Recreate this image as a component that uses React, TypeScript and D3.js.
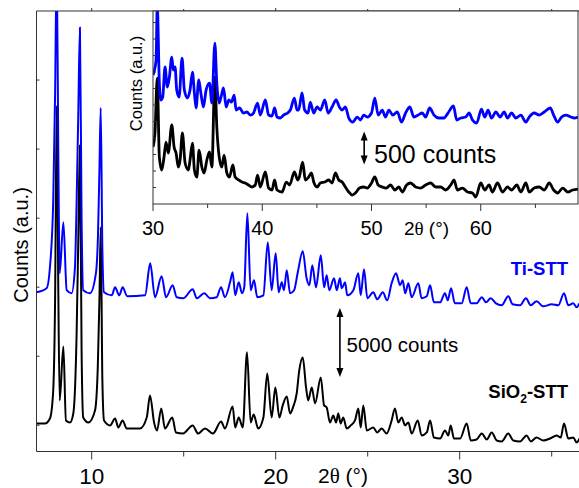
import React from 'react';
import * as d3 from 'd3';

// main pattern, 2θ (°) vs counts
const sio2Main: [number, number][] = [
  [7.0, 2130], [7.46, 2130], [7.73, 2490], [7.9, 4300], [8.01, 11050], [8.1, 25100], [8.18, 12500], [8.26, 3800],
  [8.46, 7700], [8.6, 2350], [8.82, 2200], [9.0, 2850], [9.18, 8650], [9.27, 15400], [9.36, 22300], [9.45, 7450],
  [9.54, 2560], [9.82, 2200], [10.18, 3070], [10.33, 6190], [10.42, 11070], [10.49, 16340], [10.58, 5280], [10.67, 2350],
  [11.0, 1990], [11.27, 2490], [11.45, 1840], [11.68, 2350], [11.9, 1770], [12.63, 1770], [12.99, 2560], [13.17, 4160],
  [13.39, 2200], [13.55, 1620], [13.78, 3220], [13.98, 1770], [14.38, 2560], [14.58, 1480], [14.96, 1400], [15.49, 1990],
  [15.78, 1400], [16.16, 1770], [16.59, 1400], [17.03, 2280], [17.24, 1770], [17.66, 3360], [17.8, 1840], [17.99, 2560],
  [18.21, 1840], [18.44, 7280], [18.64, 2200], [18.8, 2780], [19.05, 1770], [19.33, 2560], [19.54, 5750], [19.78, 2560],
  [19.98, 4740], [20.2, 2560], [20.38, 3440], [20.6, 4090], [20.78, 2850], [20.94, 3290], [21.14, 4300], [21.28, 5970],
  [21.47, 6910], [21.65, 4740], [21.77, 3800], [21.96, 4740], [22.14, 3580], [22.45, 5460], [22.63, 3440], [22.77, 3290],
  [22.95, 2200], [23.13, 2710], [23.28, 2200], [23.4, 2850], [23.53, 2130], [23.67, 2560], [23.86, 1770], [24.08, 1990],
  [24.31, 2350], [24.49, 3220], [24.62, 1840], [24.76, 3440], [24.95, 1620], [25.3, 1840], [25.52, 1480], [25.76, 1770],
  [26.03, 1400], [26.3, 2350], [26.48, 3220], [26.66, 2200], [26.85, 2560], [27.03, 1990], [27.21, 2200], [27.39, 1400],
  [27.72, 2350], [27.93, 1260], [28.21, 1480], [28.39, 2350], [28.6, 1110], [28.93, 1040], [29.2, 1620], [29.38, 1260],
  [29.51, 1990], [29.69, 1040], [30.02, 1040], [30.38, 2130], [30.6, 900], [30.92, 970], [31.2, 1400], [31.47, 970],
  [31.74, 1480], [32.01, 900], [32.28, 830], [32.64, 1400], [32.91, 900], [33.28, 830], [33.64, 1260], [33.86, 830],
  [34.18, 1110], [34.54, 900], [34.91, 1040], [35.27, 1260], [35.49, 1110], [35.67, 2130], [35.9, 1040], [36.17, 1110],
  [36.36, 750], [36.5, 1040],
];

const tiMain: [number, number][] = [
  [7.0, 2130], [7.55, 2420], [7.73, 3940], [7.91, 8800], [8.01, 16400], [8.1, 26000], [8.18, 13000], [8.26, 3510],
  [8.46, 7200], [8.64, 2280], [8.91, 2060], [9.09, 3940], [9.18, 8650], [9.27, 15000], [9.36, 21300], [9.45, 7500],
  [9.54, 2280], [9.91, 2060], [10.23, 3510], [10.34, 6190], [10.42, 11000], [10.49, 15470], [10.58, 5200], [10.67, 2130],
  [11.09, 1910], [11.27, 2490], [11.5, 1910], [11.68, 2490], [11.93, 1840], [12.9, 1910], [13.18, 4230], [13.44, 1770],
  [13.8, 3290], [14.04, 1770], [14.4, 2640], [14.62, 1770], [14.98, 1700], [15.49, 2350], [15.71, 1700], [16.12, 2060],
  [16.43, 1700], [16.79, 1770], [17.03, 2490], [17.24, 1770], [17.52, 2850], [17.66, 3580], [17.8, 1910], [17.99, 2850],
  [18.17, 2060], [18.29, 2490], [18.46, 7860], [18.64, 2280], [18.82, 3000], [19.0, 1770], [19.33, 1910], [19.57, 5750],
  [19.78, 2280], [20.0, 4960], [20.16, 2130], [20.33, 2850], [20.45, 2280], [20.6, 3720], [20.78, 2060], [21.0, 2280],
  [21.2, 3580], [21.47, 5100], [21.68, 3140], [21.83, 2640], [21.99, 4090], [22.19, 2490], [22.45, 4810], [22.63, 2490],
  [22.77, 3360], [22.91, 2280], [23.17, 3140], [23.32, 2280], [23.49, 3140], [23.59, 2420], [23.77, 2850], [23.89, 1910],
  [24.22, 2280], [24.49, 3510], [24.62, 1910], [24.8, 3800], [24.98, 1700], [25.3, 2130], [25.52, 1620], [25.82, 2130],
  [26.06, 1550], [26.3, 2780], [26.54, 3510], [26.76, 2640], [26.9, 3000], [27.04, 2060], [27.21, 2780], [27.39, 1770],
  [27.75, 2780], [27.93, 1700], [28.21, 1840], [28.39, 2640], [28.6, 1400], [28.93, 1400], [29.2, 2060], [29.35, 1550],
  [29.53, 2420], [29.74, 1330], [30.11, 1330], [30.38, 2490], [30.6, 1330], [30.92, 1330], [31.2, 1770], [31.43, 1400],
  [31.68, 1700], [31.97, 1330], [32.28, 1190], [32.64, 1840], [32.88, 1260], [33.28, 1190], [33.6, 1700], [33.86, 1190],
  [34.18, 1480], [34.54, 1110], [35.0, 1260], [35.36, 1190], [35.67, 2060], [35.9, 1190], [36.17, 1330], [36.36, 1040],
  [36.5, 1330],
];
const tiMainOffset = 9500;

// inset, 30-69°
const sio2Inset: [number, number][] = [
  [30.0, 864], [30.18, 1076], [30.39, 1909], [30.58, 712], [30.8, 515], [31.01, 712], [31.19, 939], [31.4, 773],
  [31.72, 1197], [31.93, 864], [32.11, 773], [32.32, 561], [32.48, 667], [32.69, 1076], [32.94, 621], [33.24, 515],
  [33.39, 667], [33.61, 924], [33.79, 515], [34.01, 409], [34.22, 818], [34.47, 561], [34.68, 470], [34.93, 667],
  [35.17, 788], [35.39, 561], [35.66, 1924], [35.84, 1167], [36.06, 712], [36.3, 561], [36.51, 742], [36.76, 470],
  [37.0, 409], [37.31, 591], [37.52, 409], [37.83, 364], [38.14, 333], [38.44, 318], [38.74, 288], [39.06, 258],
  [39.36, 288], [39.57, 439], [39.82, 258], [40.28, 485], [40.58, 242], [40.89, 212], [41.13, 364], [41.35, 212],
  [41.81, 182], [42.2, 333], [42.5, 288], [42.94, 485], [43.24, 364], [43.39, 409], [43.7, 636], [43.94, 364],
  [44.25, 409], [44.5, 470], [44.71, 333], [45.02, 258], [45.32, 318], [45.72, 333], [46.08, 364], [46.39, 318],
  [46.7, 470], [47.0, 364], [47.31, 333], [47.61, 258], [47.92, 182], [48.23, 136], [48.53, 167], [48.9, 242],
  [49.29, 258], [49.61, 242], [50.0, 318], [50.3, 409], [50.61, 288], [50.98, 258], [51.35, 242], [51.74, 288],
  [52.14, 212], [52.5, 258], [52.82, 182], [53.21, 288], [53.58, 318], [54.04, 258], [54.5, 242], [54.95, 288],
  [55.41, 318], [55.87, 258], [56.33, 258], [56.79, 212], [57.25, 288], [57.55, 364], [57.86, 212], [58.32, 242],
  [58.78, 182], [59.24, 167], [59.54, 106], [60.0, 318], [60.37, 212], [60.76, 288], [61.07, 182], [61.53, 318],
  [61.99, 182], [62.45, 258], [62.82, 212], [63.3, 288], [63.67, 182], [64.13, 318], [64.43, 182], [64.89, 242],
  [65.35, 258], [65.81, 212], [66.27, 318], [66.67, 212], [67.04, 167], [67.5, 242], [67.95, 182], [68.41, 212],
  [68.9, 227],
];

const tiInset: [number, number][] = [
  [30.0, 854], [30.09, 900], [30.28, 1082], [30.39, 1900], [30.58, 733], [30.71, 476], [30.89, 521], [31.1, 976],
  [31.31, 673], [31.5, 824], [31.72, 1127], [31.86, 930], [32.02, 976], [32.17, 627], [32.39, 521], [32.66, 1112],
  [32.87, 627], [33.15, 506], [33.39, 627], [33.61, 900], [33.79, 582], [33.94, 355], [34.19, 779], [34.38, 582],
  [34.61, 370], [34.86, 627], [35.17, 733], [35.39, 430], [35.66, 1339], [35.84, 733], [36.06, 430], [36.27, 551],
  [36.45, 658], [36.7, 370], [36.94, 476], [37.18, 445], [37.43, 551], [37.61, 324], [37.92, 355], [38.28, 279],
  [38.6, 294], [38.9, 248], [39.2, 279], [39.57, 430], [39.82, 248], [40.28, 476], [40.58, 248], [40.89, 233],
  [41.13, 355], [41.35, 218], [41.65, 203], [41.95, 248], [42.32, 279], [42.57, 324], [42.94, 506], [43.18, 324],
  [43.33, 324], [43.64, 582], [43.88, 324], [44.19, 279], [44.4, 445], [44.71, 279], [45.02, 370], [45.32, 324],
  [45.72, 476], [46.03, 279], [46.39, 370], [46.76, 476], [47.06, 370], [47.31, 324], [47.61, 370], [47.92, 203],
  [48.29, 142], [48.69, 218], [48.99, 173], [49.29, 248], [49.61, 218], [50.0, 279], [50.3, 506], [50.61, 248],
  [50.98, 324], [51.28, 218], [51.59, 324], [51.95, 248], [52.36, 294], [52.75, 142], [53.12, 279], [53.51, 370],
  [53.88, 218], [54.28, 248], [54.65, 279], [54.95, 218], [55.32, 355], [55.72, 248], [56.17, 203], [56.63, 203],
  [57.0, 279], [57.5, 385], [57.8, 173], [58.17, 203], [58.62, 218], [58.93, 279], [59.24, 173], [59.63, 127],
  [60.06, 339], [60.37, 218], [60.67, 324], [60.98, 203], [61.38, 294], [61.77, 218], [62.14, 294], [62.45, 203],
  [62.82, 279], [63.21, 203], [63.67, 248], [64.13, 142], [64.43, 218], [64.89, 279], [65.35, 248], [65.81, 294],
  [66.36, 355], [66.67, 248], [67.04, 142], [67.4, 218], [67.8, 248], [68.26, 218], [68.56, 203], [68.9, 218],
];
const tiInsetOffset = 1100;

const mainTicks = [10, 20, 30];
const mainMinor = [15, 25, 35];
const insetTicks = [30, 40, 50, 60];
const insetMinor = [35, 45, 55, 65];

const BLUE = '#0000ff';
const FRAME = '#333';
const FONT = '"Liberation Sans", Arial, sans-serif';

function Arrow({ x, y1, y2 }: { x: number; y1: number; y2: number }) {
  // y1 = top tip, y2 = bottom tip
  const hw = 3.5, hl = 9;
  return (
    <g>
      <line x1={x} x2={x} y1={y1 + hl - 1} y2={y2 - hl + 1} stroke="#000" strokeWidth={1.6} />
      <path d={`M${x},${y1} L${x - hw},${y1 + hl} L${x + hw},${y1 + hl} Z`} fill="#000" />
      <path d={`M${x},${y2} L${x - hw},${y2 - hl} L${x + hw},${y2 - hl} Z`} fill="#000" />
    </g>
  );
}

export default function App() {
  const xMain = d3.scaleLinear().domain([7, 36.5]).range([36.5, 579.3]);
  const yMain = d3.scaleLinear().domain([100, 32000]).range([451.5, 11]);
  const xIn = d3.scaleLinear().domain([30, 68.9]).range([153, 578]);
  const yIn = d3.scaleLinear().domain([0, 2925]).range([204, 11]);

  const mainLine = (off: number) =>
    d3.line<[number, number]>().x(d => xMain(d[0])).y(d => yMain(d[1] + off)).curve(d3.curveMonotoneX);
  const inLine = (off: number) =>
    d3.line<[number, number]>().x(d => xIn(d[0])).y(d => yIn(d[1] + off)).curve(d3.curveMonotoneX);

  const [mx0, mx1] = xMain.range();
  const [my0, my1] = [yMain.range()[1], yMain.range()[0]];
  const [ix0, ix1] = xIn.range();
  const [iy0, iy1] = [yIn.range()[1], yIn.range()[0]];

  return (
    <svg width={579} height={488} style={{ position: 'absolute', left: 0, top: 0, background: '#fff' }}
      fontFamily={FONT}>
      <defs>
        <clipPath id="clipMain">
          <rect x={mx0} y={my0} width={mx1 - mx0} height={my1 - my0} />
        </clipPath>
        <clipPath id="clipIn">
          <rect x={ix0} y={iy0} width={ix1 - ix0} height={iy1 - iy0} />
        </clipPath>
      </defs>

      {/* main curves */}
      <g clipPath="url(#clipMain)" fill="none" strokeWidth={2} strokeLinejoin="round">
        <path d={mainLine(0)(sio2Main) || ''} stroke="#000" />
        <path d={mainLine(tiMainOffset)(tiMain) || ''} stroke={BLUE} />
      </g>

      {/* main frame */}
      <g stroke={FRAME} strokeWidth={1}>
        <line x1={mx0} x2={mx0} y1={my0} y2={my1} />
        <line x1={mx0} x2={mx1} y1={my1} y2={my1} />
        <line x1={mx0} x2={mx1} y1={my0} y2={my0} />
        {mainTicks.map(t => (
          <g key={'mt' + t}>
            <line x1={xMain(t)} x2={xMain(t)} y1={my1} y2={my1 + 8} />
            <line x1={xMain(t)} x2={xMain(t)} y1={my0} y2={my0 - 3} />
          </g>
        ))}
        {mainMinor.map(t => (
          <g key={'mm' + t}>
            <line x1={xMain(t)} x2={xMain(t)} y1={my1} y2={my1 + 5} />
            <line x1={xMain(t)} x2={xMain(t)} y1={my0} y2={my0 - 2} />
          </g>
        ))}
        {d3.range(2000, 31000, 5000).map(v => (
          <line key={'my' + v} x1={mx0} x2={mx0 + 3} y1={yMain(v)} y2={yMain(v)} />
        ))}
      </g>
      {mainTicks.map(t => (
        <text key={'ml' + t} x={xMain(t)} y={484} fontSize={22.5} textAnchor="middle" fill="#000">{t}</text>
      ))}
      <text x={343} y={482.5} fontSize={21} textAnchor="middle" fill="#000">
        2<tspan fontFamily='"Liberation Serif", serif'>θ</tspan> (°)
      </text>
      <text transform="translate(28,245) rotate(-90)" fontSize={20} textAnchor="middle" fill="#000">Counts (a.u.)</text>

      {/* annotations main */}
      <text x={568} y={275} fontSize={18.5} fontWeight="bold" textAnchor="end" fill={BLUE}>Ti-STT</text>
      <text x={568} y={398} fontSize={18.5} fontWeight="bold" textAnchor="end" fill="#000">
        SiO<tspan fontSize={12} dy={5}>2</tspan><tspan dy={-5}>-STT</tspan>
      </text>
      <Arrow x={xMain(23.49)} y1={yMain(10500)} y2={yMain(5500)} />
      <text x={346.5} y={352} fontSize={20.5} fill="#000">5000 counts</text>

      {/* inset */}
      <rect x={ix0} y={iy0} width={ix1 - ix0} height={iy1 - iy0} fill="#fff" />
      <g clipPath="url(#clipIn)" fill="none" strokeWidth={2.8} strokeLinejoin="round">
        <path d={inLine(0)(sio2Inset) || ''} stroke="#000" />
        <path d={inLine(tiInsetOffset)(tiInset) || ''} stroke={BLUE} />
      </g>
      <g stroke={FRAME} strokeWidth={1}>
        <rect x={ix0} y={iy0} width={ix1 - ix0} height={iy1 - iy0} fill="none" />
        {insetTicks.map(t => (
          <line key={'it' + t} x1={xIn(t)} x2={xIn(t)} y1={iy1} y2={iy1 + 7} />
        ))}
        {insetMinor.map(t => (
          <line key={'im' + t} x1={xIn(t)} x2={xIn(t)} y1={iy1} y2={iy1 + 4} />
        ))}
        {d3.range(250, 2925, 250).map(v => (
          <line key={'iy' + v} x1={ix0} x2={ix0 + 3} y1={yIn(v)} y2={yIn(v)} />
        ))}
      </g>
      {insetTicks.map(t => (
        <text key={'il' + t} x={xIn(t)} y={235} fontSize={20} textAnchor="middle" fill="#000">{t}</text>
      ))}
      <text x={426.5} y={235} fontSize={19} textAnchor="middle" fill="#000">
        2<tspan fontFamily='"Liberation Serif", serif'>θ</tspan> (°)
      </text>
      <text transform="translate(141.5,83.5) rotate(-90)" fontSize={16.5} textAnchor="middle" fill="#000">Counts (a.u.)</text>
      <Arrow x={xIn(49.33)} y1={yIn(1100)} y2={yIn(600)} />
      <text x={374} y={163.3} fontSize={25} fill="#000">500 counts</text>
    </svg>
  );
}
